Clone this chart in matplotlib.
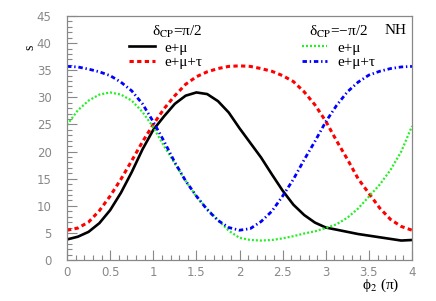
import numpy as np
import matplotlib
matplotlib.use('Agg')
import matplotlib.pyplot as plt
from matplotlib.ticker import MultipleLocator

plt.rcParams['mathtext.fontset'] = 'stix'

# phi_2 in units of pi
phi = [0, 0.125, 0.25, 0.375, 0.5, 0.625, 0.75, 0.875, 1.0, 1.125, 1.25, 1.375,
       1.5, 1.625, 1.75, 1.875, 2.0, 2.125, 2.25, 2.375, 2.5, 2.625, 2.75, 2.875,
       3.0, 3.125, 3.25, 3.375, 3.5, 3.625, 3.75, 3.875, 4.0]

# delta_CP = pi/2
emu_p = [3.8, 4.3, 5.2, 6.8, 9.2, 12.4, 16.2, 20.4, 24.0, 26.5, 28.8, 30.3,
         30.9, 30.6, 29.3, 27.2, 24.3, 21.6, 18.9, 15.8, 12.8, 10.2, 8.3, 6.9,
         6.0, 5.6, 5.2, 4.8, 4.5, 4.2, 3.9, 3.6, 3.7]
emutau_p = [5.5, 5.9, 7.0, 9.1, 11.8, 14.9, 18.3, 21.8, 25.0, 27.9, 30.3, 32.4,
            33.8, 34.7, 35.3, 35.7, 35.8, 35.7, 35.3, 34.8, 34.0, 32.9, 31.0, 28.6,
            25.6, 22.0, 18.6, 15.0, 12.3, 9.6, 7.5, 6.2, 5.5]

# delta_CP = -pi/2
emu_m = [24.9, 27.6, 29.4, 30.5, 30.9, 30.5, 29.4, 27.3, 24.5, 21.0, 17.8, 14.6,
         11.7, 9.4, 7.4, 5.4, 4.1, 3.7, 3.6, 3.7, 4.0, 4.4, 4.9, 5.3,
         5.9, 6.6, 7.8, 9.5, 11.7, 13.9, 16.6, 20.0, 24.7]
emutau_m = [35.7, 35.6, 35.2, 34.7, 34.0, 32.8, 31.2, 28.8, 25.5, 21.9, 18.0, 14.6,
            11.8, 9.3, 7.3, 6.0, 5.5, 5.8, 7.1, 9.0, 11.8, 14.9, 18.5, 21.9,
            25.5, 28.5, 31.0, 32.8, 34.1, 34.8, 35.3, 35.6, 35.7]

labels = ['e+μ', 'e+μ+τ']
serif = {'family': 'Liberation Serif', 'size': 11}

fig = plt.figure(figsize=(4.36, 3.01), dpi=100)
ax = fig.add_axes([0.1537, 0.136, 0.7913, 0.811])

l1, = ax.plot(phi, emu_p, '-', color='black', lw=1.9)
l2, = ax.plot(phi, emutau_p, color='red', lw=2.2, dashes=(1.4, 1.1))
l3, = ax.plot(phi, emu_m, color='#22f022', lw=1.6, dashes=(0.9, 0.9))
l4, = ax.plot(phi, emutau_m, color='blue', lw=2.0, dashes=(1.6, 1.0, 0.5, 1.0))

ax.set_xlim(0, 4)
ax.set_ylim(0, 45)

# ROOT-like axes
ax.xaxis.set_major_locator(MultipleLocator(0.5))
ax.xaxis.set_minor_locator(MultipleLocator(0.1))
ax.yaxis.set_major_locator(MultipleLocator(5))
ax.yaxis.set_minor_locator(MultipleLocator(1))
ax.xaxis.set_major_formatter(plt.FuncFormatter(lambda v, p: '%g' % v))
ax.tick_params(which='both', direction='in', color='#888888', top=False, right=False,
               labelcolor='#888888', labelsize=8.5)
ax.tick_params(which='major', length=7, width=0.8)
ax.tick_params(which='minor', length=3.5, width=0.8)
ax.tick_params(axis='y', pad=11)
ax.tick_params(axis='x', pad=4)
for s in ax.spines.values():
    s.set_color('#888888')
    s.set_linewidth(0.9)

ax.set_ylabel('s', fontsize=10, family='Liberation Serif', rotation=90)
ax.yaxis.set_label_coords(-0.09, 0.87)
ax.set_xlabel('ϕ$_2$ (π)', fontsize=11, family=['Liberation Serif', 'DejaVu Serif'])
ax.xaxis.set_label_coords(0.91, -0.07)

leg1 = ax.legend([l1, l2], labels, title='δ$_{\\rm CP}$=π/2',
                 loc='upper left', bbox_to_anchor=(0.150, 1.01), frameon=False,
                 prop=serif, handlelength=1.65, handletextpad=0.65,
                 labelspacing=0.05, borderpad=0.2, alignment='right',
                 title_fontproperties=serif)
ax.add_artist(leg1)
ax.legend([l3, l4], labels, title='δ$_{\\rm CP}$=−π/2',
          loc='upper left', bbox_to_anchor=(0.650, 1.01), frameon=False,
          prop=serif, handlelength=1.65, handletextpad=0.65,
          labelspacing=0.05, borderpad=0.2, alignment='center',
          title_fontproperties=serif)
ax.text(0.985, 0.965, 'NH', transform=ax.transAxes, ha='right', va='top',
        fontsize=11, family='Liberation Serif')

fig.savefig('out.png', dpi=100)
